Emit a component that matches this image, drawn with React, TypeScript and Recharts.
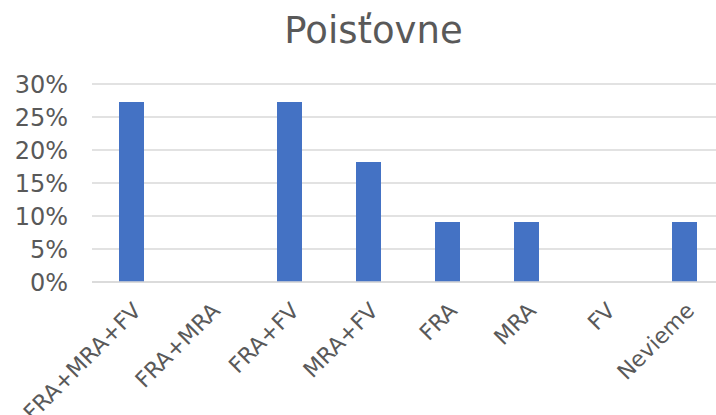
import React from 'react';
import { BarChart, Bar, XAxis, YAxis, CartesianGrid } from 'recharts';

const categories = ['FRA+MRA+FV', 'FRA+MRA', 'FRA+FV', 'MRA+FV', 'FRA', 'MRA', 'FV', 'Nevieme'];
const shares = [0.2727, 0, 0.2727, 0.1818, 0.0909, 0.0909, 0, 0.0909];
const yTicks = [0, 0.05, 0.1, 0.15, 0.2, 0.25, 0.3];

const data = categories.map((name, i) => ({ name, value: shares[i] }));

const FONT = 'Verdana, "DejaVu Sans", sans-serif';
const TEXT = '#595959';
const GRID = '#d9d9d9';

const AngledTick = (props: any) => {
  const { x, y, payload } = props;
  return (
    <g transform={`translate(${x + 11},${y + 30})`}>
      <text
        x={0}
        y={0}
        textAnchor="end"
        transform="rotate(-45)"
        fill={TEXT}
        fontSize={22}
        fontFamily={FONT}
      >
        {payload.value}
      </text>
    </g>
  );
};

const App: React.FC = () => {
  return (
    <div
      style={{
        position: 'absolute',
        left: 0,
        top: 0,
        width: 716,
        height: 415,
        overflow: 'hidden',
        background: '#fff',
      }}
    >
      <div
        style={{
          position: 'absolute',
          left: 373.5,
          top: 12,
          transform: 'translateX(-50%)',
          fontFamily: FONT,
          fontSize: 37,
          lineHeight: '37px',
          color: TEXT,
          whiteSpace: 'nowrap',
        }}
      >
        Poisťovne
      </div>
      <BarChart
        width={724}
        height={415}
        data={data}
        margin={{ top: 84, right: 0, bottom: 0, left: 0 }}
      >
        <CartesianGrid vertical={false} stroke={GRID} strokeWidth={1.5} />
        <XAxis
          dataKey="name"
          interval={0}
          height={133}
          tickLine={false}
          tickSize={0}
          tickMargin={0}
          axisLine={{ stroke: GRID, strokeWidth: 1.5 }}
          tick={<AngledTick />}
        />
        <YAxis
          width={92}
          domain={[0, 0.3]}
          ticks={yTicks}
          interval={0}
          axisLine={false}
          tickLine={false}
          tickSize={0}
          tickMargin={24}
          tickFormatter={(v: number) => `${Math.round(v * 100)}%`}
          tick={{ fill: TEXT, fontSize: 24, fontFamily: FONT }}
        />
        <Bar dataKey="value" fill="#4472c4" barSize={25} isAnimationActive={false} />
      </BarChart>
    </div>
  );
};

export default App;
